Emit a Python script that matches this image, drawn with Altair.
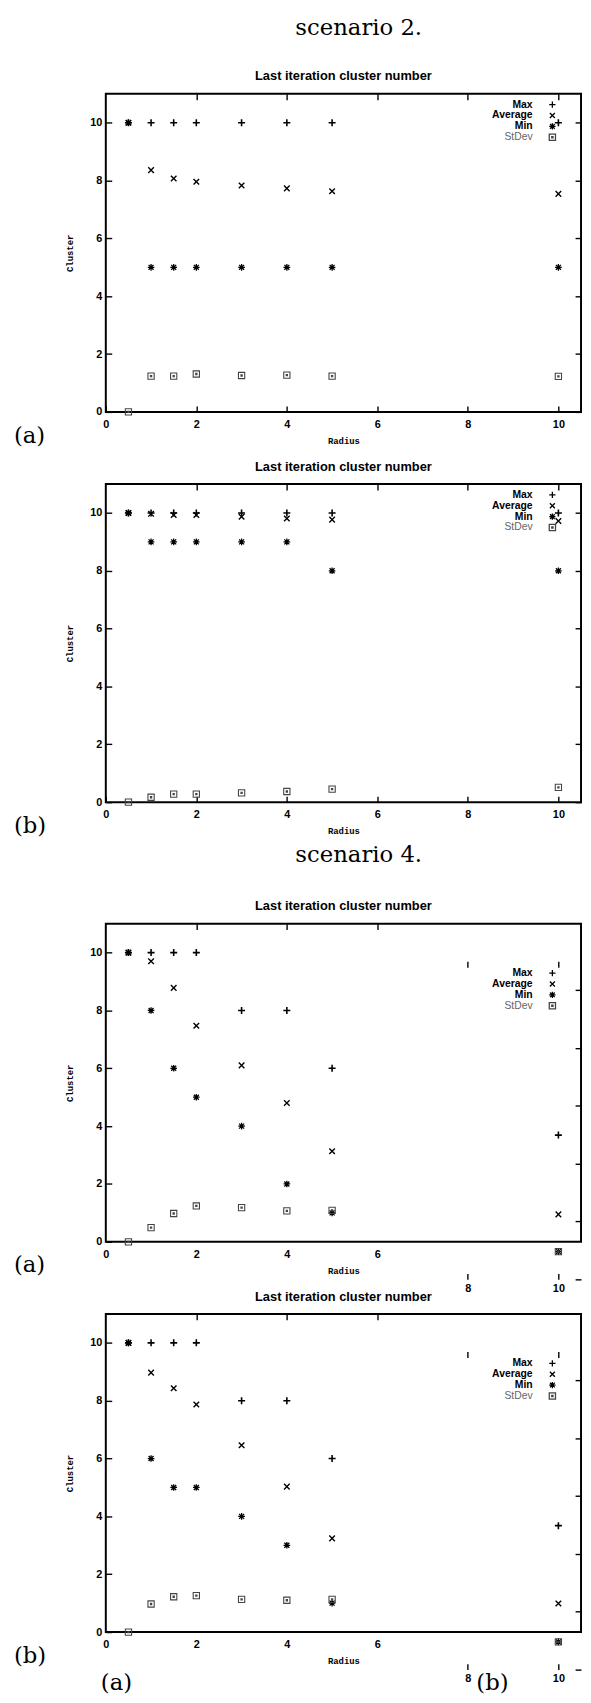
import altair as alt
import pandas as pd

# ---------------- data ----------------
radius = [0.5, 1, 1.5, 2, 3, 4, 5, 10]
series = ["Max", "Average", "Min", "StDev"]

s2a_max = [10, 10, 10, 10, 10, 10, 10, 10]
s2a_avg = [10, 8.36, 8.07, 7.96, 7.83, 7.73, 7.63, 7.54]
s2a_min = [10, 5, 5, 5, 5, 5, 5, 5]
s2a_std = [0, 1.24, 1.24, 1.31, 1.26, 1.27, 1.24, 1.23]

s2b_max = [10, 10, 10, 10, 10, 10, 10, 10]
s2b_avg = [10, 9.97, 9.93, 9.93, 9.87, 9.81, 9.77, 9.72]
s2b_min = [10, 9, 9, 9, 9, 9, 8, 8]
s2b_std = [0, 0.17, 0.28, 0.28, 0.32, 0.37, 0.45, 0.51]

s4a_max = [10, 10, 10, 10, 8, 8, 6, 3.69]
s4a_avg = [10, 9.70, 8.78, 7.47, 6.10, 4.80, 3.13, 0.95]
s4a_min = [10, 8, 6, 5, 4, 2, 1, -0.34]
s4a_std = [0, 0.49, 0.98, 1.24, 1.18, 1.07, 1.09, -0.34]

s4b_max = [10, 10, 10, 10, 8, 8, 6, 3.68]
s4b_avg = [10, 8.97, 8.43, 7.87, 6.46, 5.03, 3.24, 0.99]
s4b_min = [10, 6, 5, 5, 4, 3, 1, -0.34]
s4b_std = [0, 0.97, 1.22, 1.26, 1.13, 1.10, 1.13, -0.34]

panel_title = "Last iteration cluster number"
headers = ["scenario 2.", "", "scenario 4.", ""]
sub_labels = ["(a)", "(b)", "(a)", "(b)"]
footer_labels = ["(a)", "(b)"]
x_title = "Radius"
y_title = "Cluster"

x_ticks = [0, 2, 4, 6, 8, 10]
x_ticks_broken = [0, 2, 4, 6]
x_ticks_shifted = [8, 10]
y_ticks = [0, 2, 4, 6, 8, 10]

# ---------------- style ----------------
SANS = "Liberation Sans"
MONO = "Liberation Mono"
SERIF = "DejaVu Serif"
W, H = 481, 322
X_DOMAIN = [0, 10.5]
Y_DOMAIN = [0, 11]

series_shapes = [
    "M-1,0L1,0M0,-1L0,1",
    "M-0.8,-0.8L0.8,0.8M-0.8,0.8L0.8,-0.8",
    "M-1,0L1,0M0,-1L0,1M-0.75,-0.75L0.75,0.75M-0.75,0.75L0.75,-0.75",
    "M-1,-1L1,-1L1,1L-1,1ZM-0.2,-0.2L0.2,-0.2L0.2,0.2L-0.2,0.2Z",
]
series_colors = ["#000000", "#000000", "#000000", "#444444"]
series_sizes = [50, 50, 45, 40]
series_strokes = [1.6, 1.4, 1.3, 1.1]

# per-panel layout tweaks
header_y = [-67, 0, -69, 0]
spacer_offset = [32, 25.5, 32, 32]


def make_panel(vals, idx, broken, footer):
    rows = []
    for name, v in zip(series, vals):
        for r, y in zip(radius, v):
            rows.append({"radius": r, "series": name, "value": y})
    df = pd.DataFrame(rows)
    xs = alt.Scale(domain=X_DOMAIN, nice=False, zero=False)
    ys = alt.Scale(domain=Y_DOMAIN, nice=False, zero=False)
    leg_shift = 39 if broken else 0
    tick_shift = 38 if broken else 0

    common = dict(domain=False, grid=False, tickColor="black", tickWidth=1.4, tickSize=6,
                  labelFont=SANS, labelFontSize=11, labelFontWeight="bold", labelColor="black",
                  labelFlush=False, labelOverlap=False)
    bottom_vals = x_ticks_broken if broken else x_ticks
    ax_x = [
        alt.Axis(orient="bottom", values=bottom_vals, offset=-6, labelPadding=7,
                 tickOpacity=0 if broken else 1, title=x_title, titleFont=MONO,
                 titleFontSize=9, titleFontWeight="bold", titlePadding=7, titleColor="black",
                 **common),
        alt.Axis(orient="top", values=bottom_vals[1:], offset=-6, labels=False, title=None, **common),
        alt.Axis(orient="bottom", values=x_ticks_shifted, offset=spacer_offset[idx], labelPadding=3,
                 title=None, labelOpacity=1 if broken else 0, tickOpacity=1 if broken else 0,
                 **common),
        alt.Axis(orient="top", values=x_ticks_shifted, offset=-44, labels=False, title=None,
                 **common) if broken else None,
    ]
    ax_y = [
        alt.Axis(orient="left", values=y_ticks, offset=-6, labelPadding=4, title=y_title,
                 titleFont=MONO, titleFontSize=9, titleFontWeight="bold", titlePadding=15,
                 titleColor="black", **common),
        alt.Axis(orient="right", values=y_ticks, offset=-6, labels=False, title=None,
                 tickOffset=tick_shift, **common),
        None,
        None,
    ]

    layers = []
    for i, name in enumerate(series):
        layers.append(
            alt.Chart(df).transform_filter(alt.datum.series == name).mark_point(
                shape=series_shapes[i], filled=False, size=series_sizes[i],
                strokeWidth=series_strokes[i], color=series_colors[i], opacity=1,
            ).encode(
                x=alt.X("radius:Q", scale=xs, axis=ax_x[i]),
                y=alt.Y("value:Q", scale=ys, axis=ax_y[i]),
            )
        )

    leg = pd.DataFrame({"series": series})
    ly = alt.Y("series:N", sort=series,
               scale=alt.Scale(domain=series, range=[11 + leg_shift, 44 + leg_shift], padding=0),
               axis=None)
    leg_bold = alt.Chart(leg).transform_filter(
        alt.FieldOneOfPredicate(field="series", oneOf=series[:3])
    ).mark_text(align="right", baseline="middle", font=SANS, fontSize=10.5,
                fontWeight="bold", color="black").encode(
        text="series:N", x=alt.value(432), y=ly)
    leg_reg = alt.Chart(leg).transform_filter(
        alt.FieldOneOfPredicate(field="series", oneOf=series[3:])
    ).mark_text(align="right", baseline="middle", font=SANS, fontSize=10.5,
                fontWeight="normal", color="#666666").encode(
        text="series:N", x=alt.value(432), y=ly)
    leg_sym = alt.Chart(leg).mark_point(filled=False, size=40, strokeWidth=1.3, opacity=1).encode(
        x=alt.value(452), y=ly,
        shape=alt.Shape("series:N", scale=alt.Scale(domain=series, range=series_shapes), legend=None),
        color=alt.Color("series:N", scale=alt.Scale(domain=series, range=series_colors), legend=None),
    )

    ann = [
        alt.Chart(pd.DataFrame({"t": [panel_title]})).mark_text(
            font=SANS, fontSize=13, fontWeight="bold", align="center", baseline="middle",
            color="black").encode(text="t:N", x=alt.value(W / 2), y=alt.value(-17.5)),
        alt.Chart(pd.DataFrame({"t": [sub_labels[idx]]})).mark_text(
            font=SERIF, fontSize=23, align="left", baseline="middle", color="black").encode(
            text="t:N", x=alt.value(-93), y=alt.value(H + 24)),
    ]
    if headers[idx]:
        ann.append(alt.Chart(pd.DataFrame({"t": [headers[idx]]})).mark_text(
            font=SERIF, fontSize=23, align="center", baseline="middle", color="black").encode(
            text="t:N", x=alt.value(256), y=alt.value(header_y[idx])))
    if footer:
        fdf = pd.DataFrame({"t": footer_labels, "px": [-5, 375]})
        ann.append(alt.Chart(fdf).mark_text(
            font=SERIF, fontSize=23, align="left", baseline="middle", color="black").encode(
            text="t:N", x=alt.X("px:Q", scale=None), y=alt.value(H + 52)))

    return alt.layer(*layers, leg_bold, leg_reg, leg_sym, *ann).resolve_scale(
        y="independent").resolve_axis(x="independent", y="independent").properties(width=W, height=H)


p1 = make_panel([s2a_max, s2a_avg, s2a_min, s2a_std], 0, False, False)
p2 = make_panel([s2b_max, s2b_avg, s2b_min, s2b_std], 1, False, False)
p3 = make_panel([s4a_max, s4a_avg, s4a_min, s4a_std], 2, True, False)
p4 = make_panel([s4b_max, s4b_avg, s4b_min, s4b_std], 3, True, True)

chart = alt.vconcat(p1, p2, p3, p4, spacing=-5).properties(
    padding={"left": 5, "top": -2.5, "right": 0, "bottom": 0}
).configure_view(stroke="black", strokeWidth=2)

chart.save("out.html", embed_options={"renderer": "svg", "actions": False})
